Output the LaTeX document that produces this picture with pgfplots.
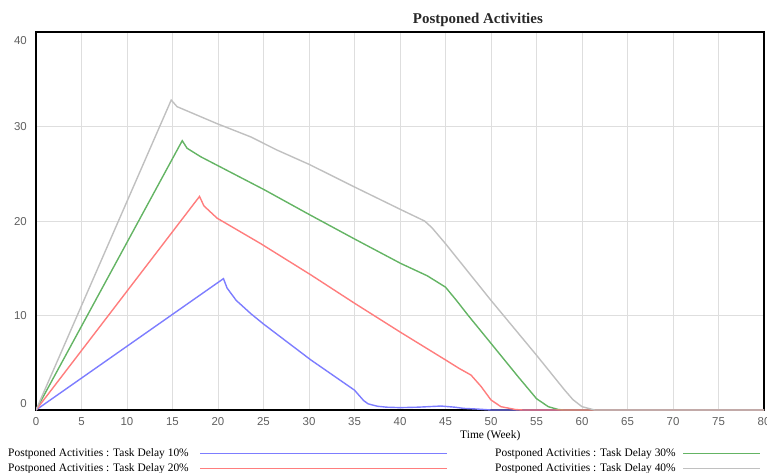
\documentclass[border=0pt]{standalone}
\usepackage{fontspec}
\setmainfont{Liberation Serif}
\setsansfont{Liberation Sans}
\usepackage{pgfplots}
\pgfplotsset{compat=1.18}
\definecolor{cblue}{RGB}{125,125,255}
\definecolor{cred}{RGB}{255,125,125}
\definecolor{cgreen}{RGB}{100,180,100}
\definecolor{cgray}{RGB}{192,192,192}
\definecolor{gridc}{RGB}{222,222,222}
\definecolor{tickc}{RGB}{95,95,95}
\definecolor{titlec}{RGB}{40,40,40}
\begin{document}
\begin{tikzpicture}
\begin{axis}[
  name=ax,
  scale only axis,
  width=728bp, height=378bp,
  xmin=0, xmax=80, ymin=0, ymax=40,
  xtick={0,5,...,80}, ytick={0,10,20,30,40},
  yticklabels={\raisebox{7bp}{0},10,20,30,\raisebox{-8bp}{40}},
  grid=major,
  major grid style={draw=gridc, line width=1bp},
  axis line style={line width=1.6bp, black},
  major tick length=0pt,
  /pgf/number format/assume math mode=true,
  ticklabel style={font=\sffamily\fontsize{11.5}{13}\selectfont, text=tickc},
  xticklabel style={anchor=base, yshift=-15bp, inner sep=0pt},
  yticklabel style={anchor=base east, xshift=-9bp, yshift=-4bp, inner sep=0pt},
  title={Postponed Activities},
  title style={font=\bfseries\fontsize{15}{17}\selectfont, text=titlec, at={(axis description cs:0.607,1)}, anchor=base, inner sep=0pt, yshift=3bp},
  xlabel={Time (Week)},
  xlabel style={font=\fontsize{11.5}{13}\selectfont, at={(axis description cs:0.624,0)}, anchor=base, yshift=-28bp, inner sep=0pt},
  legend columns=2,
  legend plot pos=right,
  legend cell align=left,
  legend style={draw=none, fill=none, at={(axis description cs:0,0)}, anchor=north west, xshift=-28bp, yshift=-38bp,
    font=\fontsize{11.5}{13}\selectfont, column sep=0pt, row sep=4.5bp, inner sep=0pt,
    nodes={inner sep=0pt, text height=8bp, text depth=2.5bp}},
  every axis plot/.append style={line width=1.4bp},
]
\addplot[cblue, legend image code/.code={\path (0bp,0bp) (305bp,0bp); \draw[cblue, line width=1.4bp] (11bp,0bp) -- (258bp,0bp);}] coordinates {
(0,0) (20.6,13.9) (21.0,12.9) (22,11.6) (23.6,10.2) (25,9.1) (30.2,5.3) (35,2.1) (36,1.0) (36.5,0.65) (37.5,0.4) (38.5,0.3) (40,0.25) (42,0.3) (44.5,0.42) (46,0.3) (47,0.17) (48.5,0.1) (50,0) (80,0)};
\addlegendentry{Postponed Activities : Task Delay 10\%}
\addplot[cgreen, legend image code/.code={\path (0bp,0bp) (84bp,0bp); \draw[cgreen, line width=1.4bp] (7bp,0bp) -- (84bp,0bp);}] coordinates {
(0,0) (16.07,28.5) (16.6,27.7) (18.1,26.8) (19.9,25.9) (25.1,23.3) (30,20.7) (35,18.1) (40.1,15.5) (43,14.2) (45,13.0) (46.2,11.6) (47.5,10.0) (50,7.05) (53,3.5) (55,1.2) (56.3,0.35) (57.4,0.05) (58,0) (80,0)};
\addlegendentry{Postponed Activities : Task Delay 30\%}
\addplot[cred, legend image code/.code={\path (0bp,0bp) (305bp,0bp); \draw[cred, line width=1.4bp] (11bp,0bp) -- (258bp,0bp);}] coordinates {
(0,0) (17.97,22.6) (18.45,21.6) (19.9,20.3) (24.7,17.6) (30.2,14.3) (35,11.3) (40.1,8.2) (45,5.3) (46.5,4.4) (47.8,3.7) (48.9,2.5) (50,1.06) (51.1,0.35) (52.7,0.05) (53.5,0) (80,0)};
\addlegendentry{Postponed Activities : Task Delay 20\%}
\addplot[cgray, legend image code/.code={\path (0bp,0bp) (84bp,0bp); \draw[cgray, line width=1.4bp] (7bp,0bp) -- (84bp,0bp);}] coordinates {
(0,0) (14.86,32.8) (15.5,32.1) (19.9,30.3) (23.6,28.9) (26.5,27.5) (30,26.0) (35,23.6) (40.1,21.2) (42.7,20.0) (43.5,19.3) (45,17.6) (50,11.6) (55,5.8) (58.1,2.1) (59,1.1) (60,0.35) (61.4,0) (80,0)};
\addlegendentry{Postponed Activities : Task Delay 40\%}
\end{axis}
\pgfresetboundingbox
\useasboundingbox ([xshift=-36bp,yshift=-63bp]ax.south west) rectangle ([xshift=3bp,yshift=32bp]ax.north east);
\end{tikzpicture}
\end{document}
